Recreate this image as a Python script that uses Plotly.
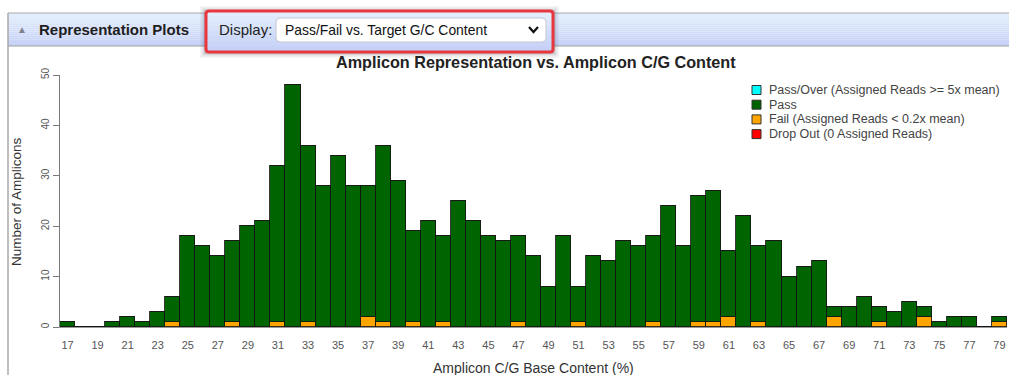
import plotly.graph_objects as go

# ---- data: amplicon counts per C/G content bin ----
gc_content = list(range(17, 80))
pass_counts = [1, 0, 0, 1, 2, 1, 3, 5, 18, 16, 14, 16, 20, 21, 31, 48, 35, 28, 34, 28,
               26, 35, 29, 18, 21, 17, 25, 21, 18, 17, 17, 14, 8, 18, 7, 14, 13, 17, 16, 17,
               24, 16, 25, 26, 13, 22, 15, 17, 10, 12, 13, 2, 4, 6, 3, 3, 5, 2, 1, 2,
               2, 0, 1]
fail_counts = [0, 0, 0, 0, 0, 0, 0, 1, 0, 0, 0, 1, 0, 0, 1, 0, 1, 0, 0, 0,
               2, 1, 0, 1, 0, 1, 0, 0, 0, 0, 1, 0, 0, 0, 1, 0, 0, 0, 0, 1,
               0, 0, 1, 1, 2, 0, 1, 0, 0, 0, 0, 2, 0, 0, 1, 0, 0, 2, 0, 0,
               0, 0, 1]
over_counts = [0] * len(gc_content)
dropout_counts = [0] * len(gc_content)

x_tick_vals = list(range(17, 80, 2))
x_tick_text = [str(v) for v in x_tick_vals]
y_tick_vals = [0, 10, 20, 30, 40, 50]

# stacking order, bottom to top
series = [
    ("Drop Out (0 Assigned Reads)", dropout_counts, "#ff0000"),
    ("Fail (Assigned Reads < 0.2x mean)", fail_counts, "#ffa500"),
    ("Pass", pass_counts, "#006400"),
    ("Pass/Over (Assigned Reads >= 5x mean)", over_counts, "#00ffff"),
]

W, H = 1009, 375
ML, MR, MT, MB = 60, 2, 75, 48
PW, PH = W - ML - MR, H - MT - MB


def px(x):
    return (x - ML) / PW


def py(y):
    return (H - MB - y) / PH


fig = go.Figure()
for name, vals, color in series:
    fig.add_trace(go.Bar(
        x=gc_content, y=vals, name=name, showlegend=False,
        marker=dict(color=color, line=dict(color="rgba(20,20,20,0.85)", width=1)),
    ))

shapes = []
annotations = []

# panel header with a soft vertical gradient
top, bot = 13, 46
n = 16
c0, c1 = (0xe3, 0xee, 0xfc), (0xc6, 0xd1, 0xf7)
for i in range(n):
    t = i / (n - 1)
    col = "rgb(%d,%d,%d)" % tuple(round(a + (b - a) * t) for a, b in zip(c0, c1))
    y0 = top + (bot - top) * i / n
    y1 = top + (bot - top) * (i + 1) / n
    shapes.append(dict(type="rect", xref="paper", yref="paper",
                       x0=px(8), x1=px(W + 2), y0=py(y0), y1=py(y1),
                       fillcolor=col, line=dict(width=0), layer="below"))
# header borders and panel edge
shapes.append(dict(type="line", xref="paper", yref="paper", x0=px(8), x1=px(W + 2),
                   y0=py(top), y1=py(top), line=dict(color="#a8a8a8", width=1)))
shapes.append(dict(type="line", xref="paper", yref="paper", x0=px(8), x1=px(W + 2),
                   y0=py(bot), y1=py(bot), line=dict(color="#a0a0a0", width=1)))
shapes.append(dict(type="line", xref="paper", yref="paper", x0=px(8), x1=px(8),
                   y0=py(top), y1=py(H + 2), line=dict(color="#a8a8a8", width=1.5)))

# soft shadow around the highlighted selector
for grow, alpha in [(5, 0.05), (3.5, 0.07), (2, 0.09), (1, 0.11)]:
    shapes.append(dict(type="rect", xref="paper", yref="paper",
                       x0=px(205 - grow), x1=px(554 + grow),
                       y0=py(10 - grow + 1), y1=py(52 + grow + 1),
                       fillcolor="rgba(60,60,80,%.2f)" % alpha, line=dict(width=0)))
shapes.append(dict(type="rect", xref="paper", yref="paper",
                   x0=px(206), x1=px(553), y0=py(11), y1=py(51),
                   fillcolor="rgba(205,214,246,1)", line=dict(width=0)))
for i in range(8):
    t = i / 7
    col = "rgb(%d,%d,%d)" % tuple(round(a + (b - a) * t) for a, b in zip(c0, c1))
    shapes.append(dict(type="rect", xref="paper", yref="paper",
                       x0=px(206), x1=px(553), y0=py(11 + 5 * i), y1=py(16 + 5 * i),
                       fillcolor=col, line=dict(width=0)))


def rounded_rect(x0, y0, x1, y1, r):
    X = lambda v: px(v)
    Y = lambda v: py(v)
    return (f"M{X(x0 + r)},{Y(y0)} L{X(x1 - r)},{Y(y0)} Q{X(x1)},{Y(y0)} {X(x1)},{Y(y0 + r)} "
            f"L{X(x1)},{Y(y1 - r)} Q{X(x1)},{Y(y1)} {X(x1 - r)},{Y(y1)} "
            f"L{X(x0 + r)},{Y(y1)} Q{X(x0)},{Y(y1)} {X(x0)},{Y(y1 - r)} "
            f"L{X(x0)},{Y(y0 + r)} Q{X(x0)},{Y(y0)} {X(x0 + r)},{Y(y0)} Z")


# dropdown box
shapes.append(dict(type="path", xref="paper", yref="paper",
                   path=rounded_rect(276, 18, 546, 42, 4),
                   fillcolor="white", line=dict(color="#c4c8d4", width=1)))
# chevron
shapes.append(dict(type="path", xref="paper", yref="paper",
                   path=f"M{px(529)},{py(27)} L{px(533.5)},{py(32)} L{px(538)},{py(27)}",
                   line=dict(color="#111", width=2.2)))
# red highlight frame
shapes.append(dict(type="path", xref="paper", yref="paper",
                   path=rounded_rect(206, 11, 553, 52, 3),
                   fillcolor="rgba(0,0,0,0)", line=dict(color="#e8383d", width=3)))

# legend: top entry first, small bordered swatches
legend_top, legend_step = 90, 14.7
for k, (name, vals, color) in enumerate(reversed(series)):
    yc = legend_top + k * legend_step
    shapes.append(dict(type="rect", xref="paper", yref="paper",
                       x0=px(752), x1=px(761), y0=py(yc - 4.5), y1=py(yc + 4.5),
                       fillcolor=color, line=dict(color="#333", width=1)))
    annotations.append(dict(text=name, x=px(767), y=py(yc), xref="paper", yref="paper",
                            showarrow=False, xanchor="left", yanchor="middle",
                            font=dict(size=12.5, color="#444")))

annotations += [
    dict(text="▲", x=px(22), y=py(30), xref="paper", yref="paper", showarrow=False,
         font=dict(size=10, color="#7d828f"), xanchor="center", yanchor="middle"),
    dict(text="<b>Representation Plots</b>", x=px(37), y=py(30), xref="paper", yref="paper",
         showarrow=False, font=dict(size=15, color="#1e1e1e"), xanchor="left", yanchor="middle"),
    dict(text="Display:", x=px(217), y=py(30), xref="paper", yref="paper", showarrow=False,
         font=dict(size=15, color="#1e1e1e"), xanchor="left", yanchor="middle"),
    dict(text="Pass/Fail vs. Target G/C Content", x=px(283), y=py(30), xref="paper", yref="paper",
         showarrow=False, font=dict(size=13.9, color="#111"), xanchor="left", yanchor="middle"),
    dict(text="<b>Amplicon Representation vs. Amplicon C/G Content</b>", x=px(536), y=py(62),
         xref="paper", yref="paper", showarrow=False, font=dict(size=16.2, color="#222"),
         xanchor="center", yanchor="middle"),
    dict(text="Number of Amplicons", x=px(16), y=py(202), xref="paper", yref="paper",
         showarrow=False, textangle=-90, font=dict(size=13.5, color="#333"),
         xanchor="center", yanchor="middle"),
    dict(text="Amplicon C/G Base Content (%)", x=px(533), y=py(368), xref="paper", yref="paper",
         showarrow=False, font=dict(size=14, color="#333"), xanchor="center", yanchor="middle"),
]

fig.update_layout(
    width=W, height=H,
    margin=dict(l=ML, r=MR, t=MT, b=MB, autoexpand=False),
    paper_bgcolor="white", plot_bgcolor="white",
    barmode="stack", bargap=0, showlegend=False,
    font=dict(family="Liberation Sans, Arial, sans-serif", color="#333"),
    shapes=shapes, annotations=annotations,
    xaxis=dict(range=[16.5, 79.5], tickmode="array", tickvals=x_tick_vals, ticktext=x_tick_text,
               showgrid=False, zeroline=False, showline=True, linecolor="#9a9a9a", linewidth=1,
               ticks="outside", ticklen=8, tickcolor="rgba(0,0,0,0)",
               tickfont=dict(size=11, color="#555")),
    yaxis=dict(range=[0, 50], tickmode="array", tickvals=y_tick_vals,
               showgrid=False, zeroline=False, showline=True, linecolor="#7a7a7a", linewidth=1,
               ticks="outside", ticklen=6, tickcolor="#7a7a7a", tickangle=-90,
               tickfont=dict(size=10, color="#555")),
)

fig.write_html("out.html")
